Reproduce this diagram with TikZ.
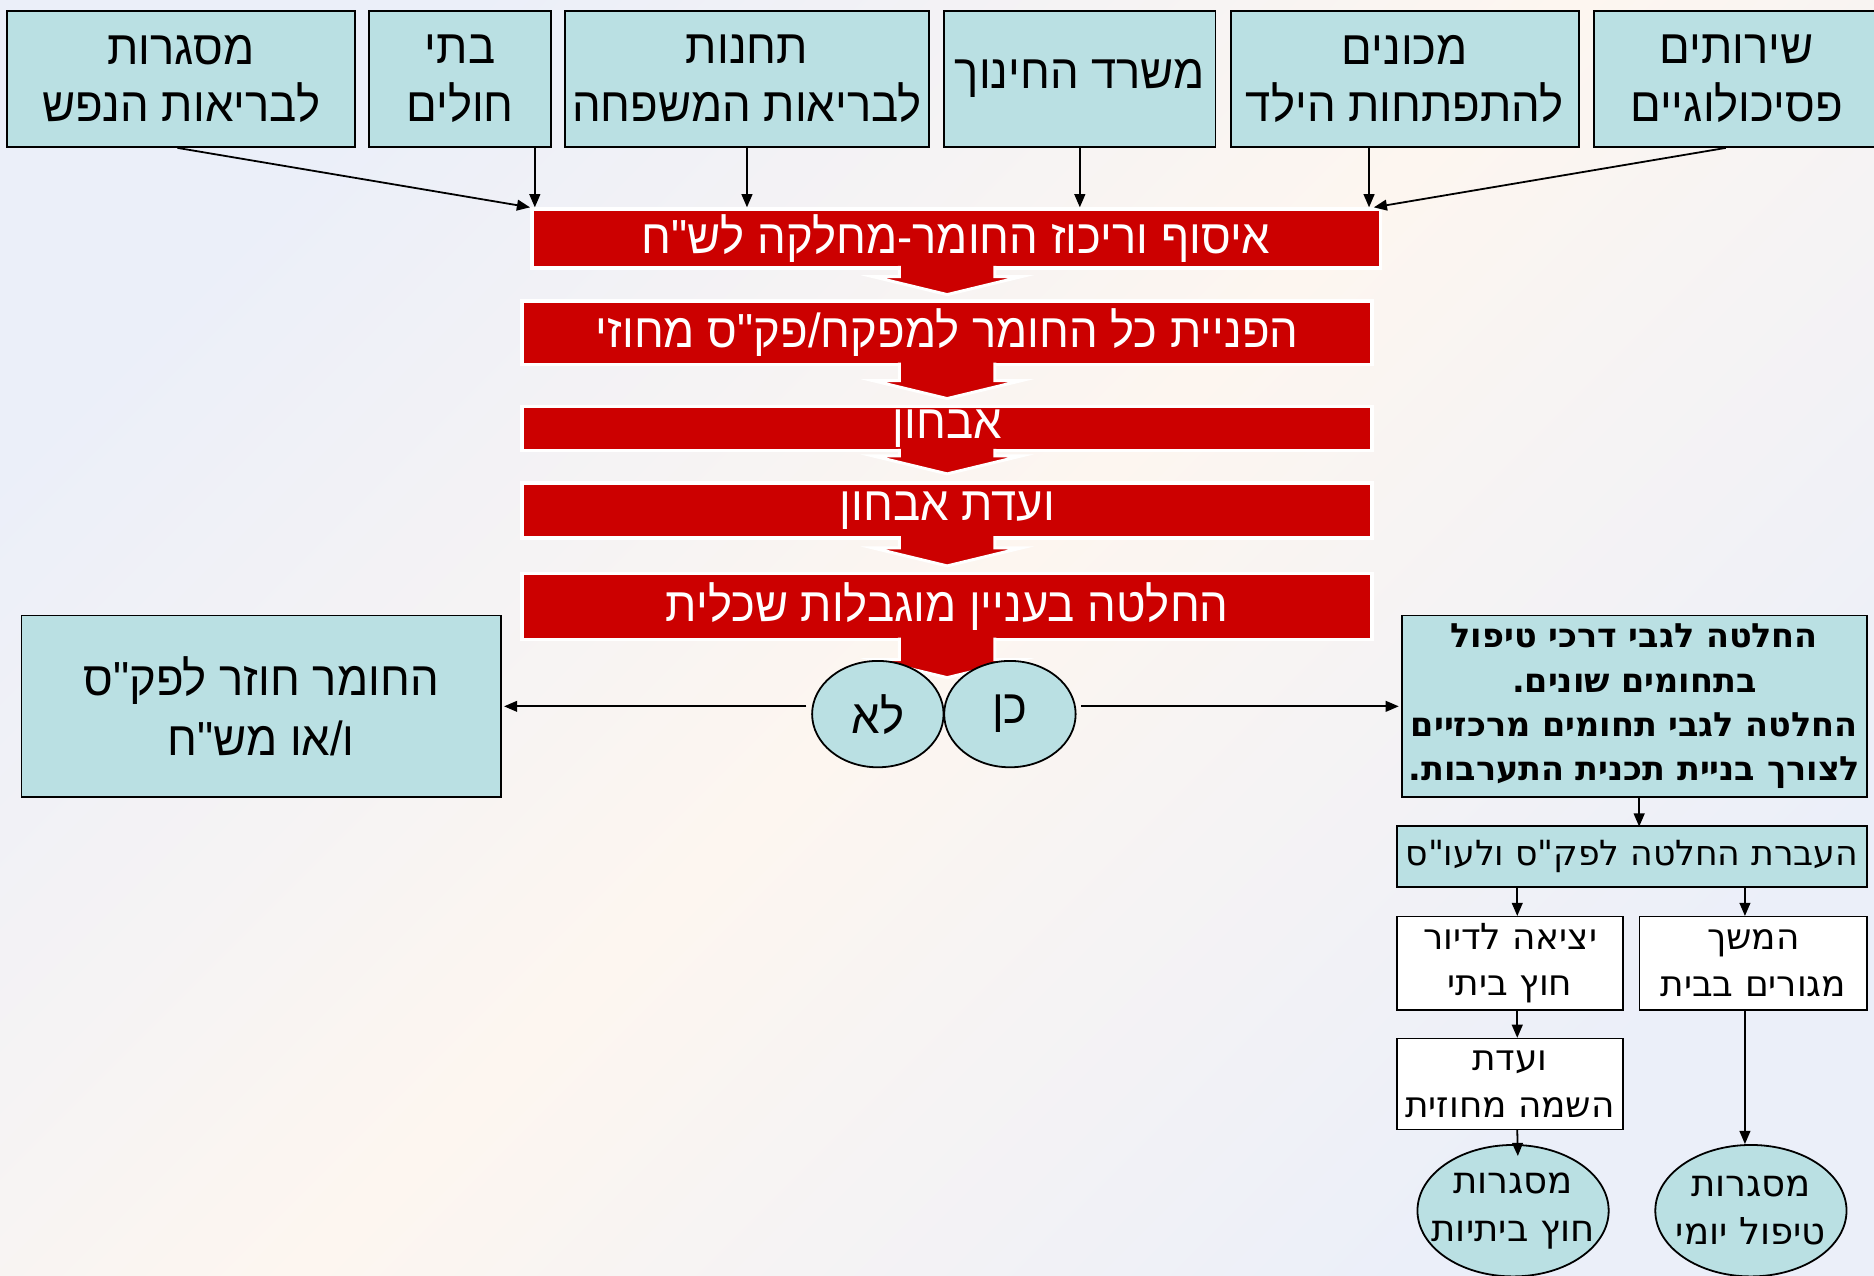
\documentclass[tikz,border=0pt]{standalone}
\usepackage{fontspec}
\usetikzlibrary{arrows.meta,shapes.geometric,calc}
\TeXXeTstate=1
\newfontfamily\hn[Script=Hebrew,FakeStretch=0.95]{Liberation Sans}
\newfontfamily\hd[Script=Hebrew]{DejaVu Sans}
\newcommand\RL[1]{\beginR #1\endR}
\definecolor{teal}{HTML}{BAE0E3}
\definecolor{myred}{HTML}{CC0000}
\definecolor{bgblue}{HTML}{EBEFF9}
\definecolor{bgpeach}{HTML}{FDF6F0}
\tikzset{
  tbox/.style={draw=black, line width=1.5pt, fill=teal, inner sep=0pt, align=center,
     font=\hn\fontsize{40}{48}\selectfont},
  rbox/.style={draw=white, line width=3pt, fill=myred, inner sep=0pt, text=white,
     minimum width=711, font=\hn\fontsize{40}{44}\selectfont},
  ell/.style={ellipse, draw=black, line width=1.5pt, fill=teal, inner sep=0pt, align=center},
  wbox/.style={draw=black, line width=1.2pt, fill=white, inner sep=0pt, align=center,
     font=\hd\fontsize{30}{39}\selectfont},
  arr/.style={-{Triangle[length=11pt,width=9pt]}, line width=1.5pt, black},
  blk/.style={fill=myred, draw=white, line width=2.5pt, line join=miter},
  elltext/.style={font=\hd\fontsize{31}{40}\selectfont, align=center, inner sep=0pt},
}
\newcommand\blockarr[3]{%
  \path[blk] let \p1=(#1.south), \p2=(#2) in
   (\x2-40pt,\y1+3pt) -- (\x2-40pt,\y2+#3pt+15pt) -- (\x2-62pt,\y2+#3pt+15pt) --
   (\x2,\y2+#3pt) -- (\x2+62pt,\y2+#3pt+15pt) -- (\x2+40pt,\y2+#3pt+15pt) -- (\x2+40pt,\y1+3pt);}
\begin{document}
\begin{tikzpicture}[x=1pt,y=-1pt]
\useasboundingbox (0,0) rectangle (1568,1067);
\shade[top color=bgblue, bottom color=bgblue, middle color=bgpeach, shading angle=45]
  (0,0) rectangle (1568,1067);

% top boxes
\node[tbox, minimum width=291, minimum height=114] (b1) at (151.5,66) {\RL{מסגרות}\\\RL{לבריאות הנפש}};
\node[tbox, minimum width=152, minimum height=114] (b2) at (385,66) {\RL{בתי}\\\RL{חולים}};
\node[tbox, minimum width=304, minimum height=114] (b3) at (625,66) {\RL{תחנות}\\\RL{לבריאות המשפחה}};
\node[tbox, minimum width=227, minimum height=114] (b4) at (903.5,66) {\RL{משרד החינוך}};
\node[tbox, minimum width=291, minimum height=114] (b5) at (1175.5,66) {\RL{מכונים}\\\RL{להתפתחות הילד}};
\node[tbox, minimum width=238, minimum height=114] (b6) at (1453,66) {\RL{שירותים}\\\RL{פסיכולוגיים}};

% red boxes
\node[rbox, minimum width=710, minimum height=49] (r1) at (800,199.5) {\RL{איסוף וריכוז החומר-מחלקה לש"ח}};
\node[rbox, minimum height=53] (r2) at (792.5,278.5) {\RL{הפניית כל החומר למפקח/פק"ס מחוזי}};
\node[rbox, minimum height=37] (r3) at (792.5,358.5) {\RL{אבחון}};
\node[rbox, minimum height=46] (r4) at (792.5,427) {\RL{ועדת אבחון}};
\node[rbox, minimum height=55] (r5) at (792.5,507.5) {\RL{החלטה בעניין מוגבלות שכלית}};

% arrows from top boxes
\draw[arr] (b1.south) ++(-3,0) -- (r1.north west);
\draw[arr] (b2.south -| r1.north west) ++(4,0) -- ($(r1.north west)+(4,0)$);
\draw[arr] (b3.south) -- (b3.south |- r1.north);
\draw[arr] (b4.south) -- (b4.south |- r1.north);
\draw[arr] ($(b5.south -| r1.north east)+(-11,0)$) -- ($(r1.north east)+(-11,0)$);
\draw[arr] ($(b6.south)+(-9,0)$) -- ($(r1.north east)+(-7,0)$);

% block arrows
\coordinate (junc) at (792.5,567);
\blockarr{r1}{r2.north}{4}
\blockarr{r2}{r3.north}{5}
\blockarr{r3}{r4.north}{6}
\blockarr{r4}{r5.north}{5}
\blockarr{r5}{junc}{0}

% yes / no
\node[ell, minimum width=110, minimum height=89, font=\hn\fontsize{40}{44}\selectfont] (no) at (734.5,597.5) {\RL{לא}};
\node[ell, minimum width=110, minimum height=89, font=\hn\fontsize{40}{44}\selectfont] (yes) at (845,597.5) {\RL{כן}};

\node[tbox, minimum width=401, minimum height=152, font=\hn\fontsize{40}{50}\selectfont] (lb) at (218.5,591) {\RL{החומר חוזר לפק"ס}\\\RL{ו/או מש"ח}};
\node[tbox, line width=1.3pt, minimum width=389, minimum height=152, font=\hd\bfseries\fontsize{28}{37}\selectfont] (rb) at (1367.5,591)
  {\RL{החלטה לגבי דרכי טיפול}\\\RL{בתחומים שונים.}\\\RL{החלטה לגבי תחומים מרכזיים}\\\RL{לצורך בניית תכנית התערבות.}};

\draw[arr, shorten <=4pt, shorten >=2pt] (no.west |- lb.east) -- (lb.east);
\draw[arr, shorten <=4pt, shorten >=2pt] (yes.east |- rb.west) -- (rb.west);

\node[tbox, line width=1.3pt, minimum width=393, minimum height=51, font=\hd\fontsize{29}{36}\selectfont] (tb) at (1365.5,716.5) {\RL{העברת החלטה לפק"ס ולעו"ס}};
\draw[arr] (rb.south) ++(4,0) -- ++(0,24);

\node[wbox, minimum width=189, minimum height=78] (c1) at (1263.5,806) {\RL{יציאה לדיור}\\\RL{חוץ ביתי}};
\node[wbox, minimum width=190, minimum height=78] (c2) at (1467,806) {\RL{המשך}\\\RL{מגורים בבית}};
\node[wbox, minimum width=189, minimum height=76] (c3) at (1263.5,907) {\RL{ועדת}\\\RL{השמה מחוזית}};

\node[ell, minimum width=160, minimum height=110] (e1) at (1266,1013) {};
\node[elltext] (e1t) at (e1.center) {\RL{מסגרות}\\\RL{חוץ ביתיות}};
\node[ell, minimum width=160, minimum height=110] (e2) at (1465,1013) {};
\node[elltext] (e2t) at (e2.center) {\RL{מסגרות}\\\RL{טיפול יומי}};

\draw[arr] ($(tb.south -| c1)+(6,0)$) -- ($(c1.north)+(6,0)$);
\draw[arr] ($(tb.south -| c2)+(-7,0)$) -- ($(c2.north)+(-7,0)$);
\draw[arr] ($(c1.south)+(6,0)$) -- ($(c3.north)+(6,0)$);
\draw[arr] ($(c3.south)+(6,0)$) -- ($(e1.north)+(4,10)$);
\draw[arr] ($(c2.south)+(-7,0)$) -- ($(e2.north)+(-5,0)$);
\end{tikzpicture}
\end{document}
